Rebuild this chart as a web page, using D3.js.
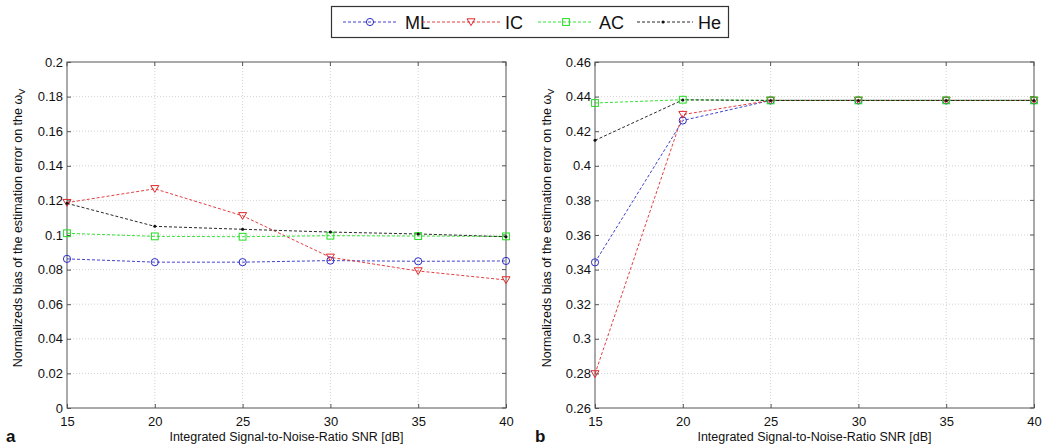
<!DOCTYPE html>
<html><head><meta charset="utf-8">
<script src="https://cdn.jsdelivr.net/npm/d3@7"></script>
<style>
body{margin:0;background:#fff;}
svg text{font-family:"Liberation Sans",Arial,Helvetica,sans-serif;fill:#111;}
</style></head>
<body><svg id="c" width="1045" height="446"></svg>
<script>
const snr = [15,20,25,30,35,40];
const seriesNames = ["ML","IC","AC","He"];
// Panel a
const a_ML = [0.0862,0.0843,0.0843,0.0852,0.0848,0.0850];
const a_IC = [0.1187,0.1267,0.1111,0.0871,0.0792,0.0740];
const a_AC = [0.1010,0.0992,0.0990,0.0996,0.0994,0.0992];
const a_He = [0.1183,0.1050,0.1033,0.1017,0.1006,0.0990];
const a_yTicks = [0,0.02,0.04,0.06,0.08,0.1,0.12,0.14,0.16,0.18,0.2];
// Panel b
const b_ML = [0.3442,0.4262,0.4378,0.4378,0.4378,0.4378];
const b_IC = [0.2797,0.4296,0.4378,0.4378,0.4378,0.4378];
const b_AC = [0.4363,0.4382,0.4378,0.4378,0.4378,0.4378];
const b_He = [0.4147,0.4381,0.4378,0.4378,0.4378,0.4378];
const b_yTicks = [0.26,0.28,0.3,0.32,0.34,0.36,0.38,0.4,0.42,0.44,0.46];
const xTicks = [15,20,25,30,35,40];

const colors = {ML:"#2b2bc8",IC:"#e0282a",AC:"#1fe01f",He:"#111"};
const svg = d3.select("#c");

function marker(g, name, x, y){
  const c = colors[name];
  if(name==="ML") g.append("circle").attr("cx",x).attr("cy",y).attr("r",3.6).attr("fill","none").attr("stroke",c).attr("stroke-width",1);
  else if(name==="IC") g.append("path").attr("d",`M${x-4},${y-3.2}L${x+4},${y-3.2}L${x},${y+3.6}Z`).attr("fill","none").attr("stroke",c).attr("stroke-width",1);
  else if(name==="AC") g.append("rect").attr("x",x-3.4).attr("y",y-3.4).attr("width",6.8).attr("height",6.8).attr("fill","none").attr("stroke",c).attr("stroke-width",1);
  else g.append("circle").attr("cx",x).attr("cy",y).attr("r",1.5).attr("fill",c);
}

function panel(opt){
  const {left,right,top,bottom,domain,ticks,data,letter,labelX} = opt;
  const x = d3.scaleLinear().domain([15,40]).range([left,right]);
  const y = d3.scaleLinear().domain(domain).range([bottom,top]);
  const g = svg.append("g");
  // grid
  g.selectAll(".gx").data(xTicks.slice(1,-1)).enter().append("line")
    .attr("x1",d=>x(d)).attr("x2",d=>x(d)).attr("y1",top).attr("y2",bottom)
    .attr("stroke","#c8c8c8").attr("stroke-width",0.8).attr("stroke-dasharray","1,2");
  g.selectAll(".gy").data(ticks.slice(1,-1)).enter().append("line")
    .attr("x1",left).attr("x2",right).attr("y1",d=>y(d)).attr("y2",d=>y(d))
    .attr("stroke","#c8c8c8").attr("stroke-width",0.8).attr("stroke-dasharray","1,2");
  // axes via d3
  const fmt = d=> String(+d.toFixed(2));
  const ax = g.append("g").attr("transform",`translate(0,${bottom})`)
    .call(d3.axisBottom(x).tickValues(xTicks).tickFormat(d=>d).tickSizeInner(-4).tickSizeOuter(0).tickPadding(9));
  const ay = g.append("g").attr("transform",`translate(${left},0)`)
    .call(d3.axisLeft(y).tickValues(ticks).tickFormat(fmt).tickSizeInner(-4).tickSizeOuter(0).tickPadding(4));
  [ax,ay].forEach(a=>{a.select(".domain").remove();a.selectAll("line").attr("stroke","#555");
    a.selectAll("text").attr("font-size",13).attr("fill","#111").style("font-family","Liberation Sans, Arial, sans-serif");});
  ax.selectAll("text").attr("dy","0.71em");
  // top/right ticks
  g.selectAll(".tt").data(xTicks).enter().append("line").attr("x1",d=>x(d)).attr("x2",d=>x(d)).attr("y1",top).attr("y2",top+4).attr("stroke","#555");
  g.selectAll(".tr").data(ticks).enter().append("line").attr("x1",right).attr("x2",right-4).attr("y1",d=>y(d)).attr("y2",d=>y(d)).attr("stroke","#555");
  // box
  g.append("rect").attr("x",left).attr("y",top).attr("width",right-left).attr("height",bottom-top)
    .attr("fill","none").attr("stroke","#555").attr("stroke-width",1);
  // series
  const line = d3.line().x((d,i)=>x(snr[i])).y(d=>y(d));
  seriesNames.forEach(n=>{
    g.append("path").datum(data[n]).attr("d",line).attr("fill","none")
      .attr("stroke",colors[n]).attr("stroke-width",0.9).attr("stroke-dasharray","3,2");
  });
  seriesNames.forEach(n=>{ data[n].forEach((v,i)=>marker(g,n,x(snr[i]),y(v))); });
  // labels
  g.append("text").attr("x",(left+right)/2).attr("y",441).attr("text-anchor","middle").attr("font-size",12.5)
    .text("Integrated Signal-to-Noise-Ratio SNR [dB]");
  const yl = g.append("text").attr("transform",`translate(${labelX},228) rotate(-90)`).attr("text-anchor","middle").attr("font-size",12.5);
  yl.append("tspan").text("Normalizeds bias of the estimation error on the ω");
  yl.append("tspan").attr("font-size",9).attr("dy",3).text("V");
  g.append("text").attr("x",opt.letterX).attr("y",442).attr("font-size",17).attr("font-weight","bold").text(letter);
}

panel({left:67,right:506,top:62,bottom:408,domain:[0,0.2],ticks:a_yTicks,
  data:{ML:a_ML,IC:a_IC,AC:a_AC,He:a_He},letter:"a",letterX:6,labelX:22});
panel({left:595,right:1034,top:62,bottom:408,domain:[0.26,0.46],ticks:b_yTicks,
  data:{ML:b_ML,IC:b_IC,AC:b_AC,He:b_He},letter:"b",letterX:535,labelX:551});

// legend
const lg = svg.append("g");
lg.append("rect").attr("x",331.5).attr("y",6.5).attr("width",397).attr("height",31).attr("fill","#fff").attr("stroke","#333").attr("stroke-width",1.2);
const legendItems = [
  {n:"ML",x1:343,x2:398,mx:370,tx:405},
  {n:"IC",x1:422,x2:500,mx:471,tx:505},
  {n:"AC",x1:538,x2:593,mx:566,tx:599},
  {n:"He",x1:637,x2:693,mx:663,tx:698}
];
legendItems.forEach(it=>{
  lg.append("line").attr("x1",it.x1).attr("x2",it.x2).attr("y1",22).attr("y2",22)
    .attr("stroke",colors[it.n]).attr("stroke-width",0.9).attr("stroke-dasharray","3,2");
  marker(lg,it.n,it.mx,22);
  lg.append("text").attr("x",it.tx).attr("y",29).attr("font-size",18).text(it.n);
});
</script></body></html>
